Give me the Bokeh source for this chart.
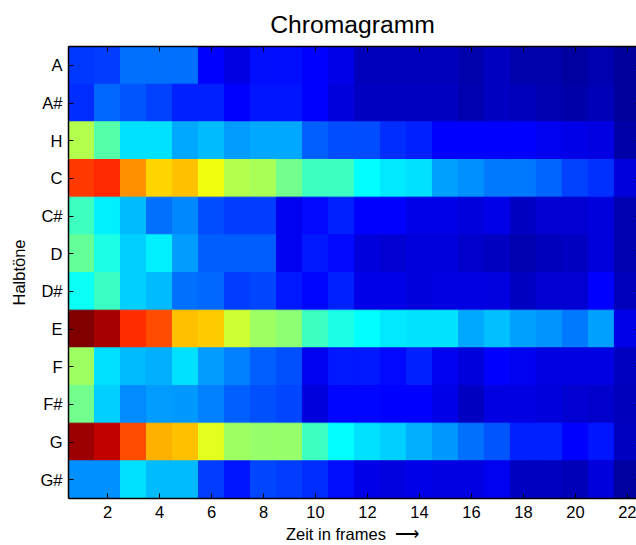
from bokeh.plotting import figure
from bokeh.models import FactorRange, Range1d, FixedTicker, LinearAxis, CategoricalAxis, LinearColorMapper, ColumnDataSource
from bokeh.embed import file_html
from bokeh.resources import INLINE

pitches = ["A", "A#", "H", "C", "C#", "D", "D#", "E", "F", "F#", "G", "G#"]
frames = list(range(1, 23))
x_ticks = list(range(2, 23, 2))

row_A  = [.18,.185,.235,.235,.235,.125,.10,.14,.14,.125,.105,.06,.06,.06,.06,.045,.07,.045,.045,.035,.05,.03]
row_As = [.17,.23,.21,.19,.16,.16,.125,.145,.145,.125,.09,.07,.07,.07,.065,.05,.07,.06,.05,.04,.055,.03]
row_H  = [.547,.458,.345,.345,.29,.31,.278,.292,.292,.22,.2,.2,.17,.16,.125,.125,.125,.125,.11,.105,.10,.04]
row_C  = [.82,.835,.734,.666,.686,.61,.547,.54,.485,.435,.435,.375,.355,.345,.282,.267,.245,.245,.225,.19,.175,.09]
row_Cs = [.435,.36,.31,.235,.26,.2,.185,.185,.11,.135,.16,.125,.125,.105,.105,.09,.105,.07,.08,.08,.09,.05]
row_D  = [.475,.40,.33,.36,.28,.215,.215,.215,.11,.15,.135,.09,.085,.09,.09,.075,.07,.05,.06,.07,.09,.05]
row_Ds = [.385,.43,.33,.31,.235,.23,.185,.195,.15,.13,.16,.105,.105,.09,.10,.10,.095,.07,.08,.085,.125,.06]
row_E  = [1.0,.96,.83,.80,.686,.673,.578,.53,.515,.435,.40,.375,.355,.35,.35,.29,.315,.285,.27,.245,.285,.105]
row_F  = [.53,.345,.31,.30,.345,.28,.25,.22,.205,.11,.15,.15,.135,.16,.11,.09,.125,.11,.10,.10,.10,.065]
row_Fs = [.485,.33,.265,.28,.275,.25,.22,.205,.195,.09,.13,.13,.125,.125,.105,.07,.10,.10,.09,.08,.075,.06]
row_G  = [.97,.93,.80,.70,.686,.595,.53,.52,.52,.435,.375,.345,.33,.30,.275,.235,.21,.16,.16,.125,.145,.07]
row_Gs = [.267,.267,.345,.31,.31,.185,.145,.195,.185,.17,.14,.105,.095,.105,.10,.10,.11,.07,.07,.055,.09,.035]
rows = [row_A, row_As, row_H, row_C, row_Cs, row_D, row_Ds, row_E, row_F, row_Fs, row_G, row_Gs]


def jet_color(t):
    def ch(a):
        return int(round(255 * max(0.0, min(1.0, a))))
    r = min(4 * t - 1.5, -4 * t + 4.5)
    g = min(4 * t - 0.5, -4 * t + 3.5)
    b = min(4 * t + 0.5, -4 * t + 2.5)
    return "#%02x%02x%02x" % (ch(r), ch(g), ch(b))


jet = [jet_color(i / 255) for i in range(256)]
mapper = LinearColorMapper(palette=jet, low=0, high=1)

xs, ys, vs = [], [], []
for name, row in zip(pitches, rows):
    for f, v in zip(frames, row):
        xs.append(f)
        ys.append(name)
        vs.append(v)
source = ColumnDataSource(dict(frame=xs, pitch=ys, level=vs))

p = figure(width=636, height=545, output_backend="svg", toolbar_location=None,
           x_range=Range1d(0.5, 22.35), y_range=FactorRange(factors=pitches[::-1]),
           x_axis_type=None, y_axis_type=None,
           min_border_left=68, min_border_right=0, min_border_top=46, min_border_bottom=47)
level = {"field": "level", "transform": mapper}
p.rect(x="frame", y="pitch", width=1, height=1, source=source, dilate=True,
       line_color=level, line_width=1, fill_color=level)

FONT = "Liberation Sans"
ticker = FixedTicker(ticks=x_ticks)

bottom = LinearAxis(ticker=ticker, axis_label="Zeit in frames\u00a0\u00a0\u27f6")
left = CategoricalAxis(axis_label="Halbt\u00f6ne")
top = LinearAxis(ticker=ticker)
right = CategoricalAxis()
p.add_layout(bottom, "below")
p.add_layout(left, "left")
p.add_layout(top, "above")
p.add_layout(right, "right")

for ax in (bottom, left, top):
    ax.axis_line_color = "black"
    ax.axis_line_width = 1.5
    ax.major_tick_in = 5
    ax.major_tick_out = 0
    ax.major_tick_line_color = "black"
    ax.major_tick_line_width = 1
    ax.minor_tick_line_color = None
    ax.major_label_text_font = FONT
    ax.major_label_text_color = "black"
    ax.axis_label_text_font = FONT
    ax.axis_label_text_font_style = "normal"
    ax.axis_label_text_color = "black"
for ax in (bottom, left):
    ax.major_label_text_font_size = "16.5px"
    ax.axis_label_text_font_size = "16.5px"
bottom.major_label_standoff = 7
bottom.axis_label_standoff = 4
left.major_label_standoff = 6
left.axis_label_standoff = 9

top.major_label_text_color = None
top.major_label_text_font_size = "1px"
top.major_label_standoff = 0

right.axis_line_color = None
right.major_tick_in = 1
right.major_tick_out = 0
right.major_tick_line_color = "black"
right.minor_tick_line_color = None
right.major_label_text_color = None
right.major_label_text_font_size = "1px"
right.major_label_standoff = 0
right.major_label_overrides = {name: "" for name in pitches}

p.title.text = "Chromagramm"
p.title.text_font = FONT
p.title.text_font_size = "24.7px"
p.title.text_font_style = "normal"
p.title.text_color = "black"
p.title.vertical_align = "top"
p.title.align = "center"
p.title.standoff = 13
p.outline_line_color = None
p.background_fill_color = "white"

open("out.html", "w").write(file_html(p, INLINE))
